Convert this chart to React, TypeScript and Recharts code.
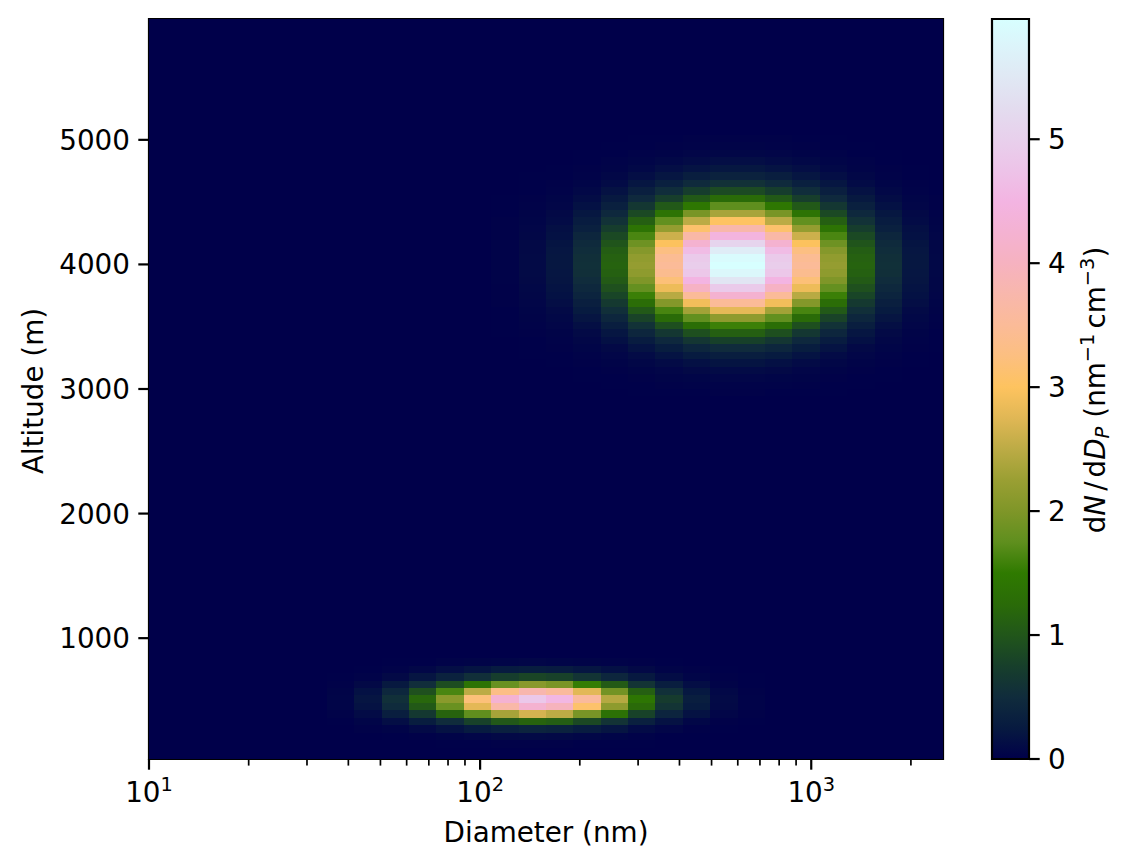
import { Bar, BarChart, ReferenceArea, Scatter, ScatterChart, XAxis, YAxis } from 'recharts';

const FONT = '"DejaVu Sans", sans-serif';
const WIDTH = 1132;
const HEIGHT = 867;

// bin centres
const diameters = [
  10, 12.1, 14.6, 17.7, 21.4, 25.9, 31.4, 37.9, 45.9, 55.5,
  67.1, 81.2, 98.2, 118.8, 143.8, 173.9, 210.4, 254.4, 307.8, 372.4,
  450.5, 545, 659.2, 797.5, 964.9, 1167, 1412, 1708, 2067, 2500,
];
const altitudes = [
  30, 90, 150, 210, 270, 330, 390, 450, 510, 570, 630, 690, 750, 810, 870, 930, 990, 1050, 1110, 1170,
  1230, 1290, 1350, 1410, 1470, 1530, 1590, 1650, 1710, 1770, 1830, 1890, 1950, 2010, 2070, 2130, 2190, 2250, 2310, 2370,
  2430, 2490, 2550, 2610, 2670, 2730, 2790, 2850, 2910, 2970, 3030, 3090, 3150, 3210, 3270, 3330, 3390, 3450, 3510, 3570,
  3630, 3690, 3750, 3810, 3870, 3930, 3990, 4050, 4110, 4170, 4230, 4290, 4350, 4410, 4470, 4530, 4590, 4650, 4710, 4770,
  4830, 4890, 4950, 5010, 5070, 5130, 5190, 5250, 5310, 5370, 5430, 5490, 5550, 5610, 5670, 5730, 5790, 5850, 5910, 5970,
];

// upper mode: altitude bins 49-83 (bottom up), diameter bins 13-29
const upperFirstRow = 49;
const upperFirstCol = 13;
const upperRows = [
  [0, 0, 0, 0, 0, .01, .01, .01, .02, .02, .01, .01, .01, 0, 0, 0, 0],
  [0, 0, 0, 0, .01, .01, .02, .03, .03, .03, .03, .02, .01, .01, 0, 0, 0],
  [0, 0, 0, .01, .01, .02, .04, .05, .06, .06, .05, .04, .02, .01, .01, 0, 0],
  [0, 0, 0, .01, .02, .04, .06, .09, .11, .11, .09, .06, .04, .02, .01, 0, 0],
  [0, 0, .01, .02, .04, .07, .11, .15, .19, .19, .15, .11, .07, .04, .02, .01, 0],
  [0, .01, .01, .03, .06, .11, .18, .26, .31, .31, .26, .18, .11, .06, .03, .01, 0],
  [0, .01, .02, .05, .09, .18, .29, .41, .49, .49, .41, .29, .18, .09, .05, .02, .01],
  [0, .01, .03, .07, .15, .28, .44, .63, .76, .76, .63, .44, .28, .15, .07, .03, .01],
  [.01, .02, .04, .10, .21, .41, .65, .92, 1.11, 1.11, .92, .65, .41, .21, .10, .04, .01],
  [.01, .03, .06, .14, .30, .58, .92, 1.30, 1.57, 1.57, 1.30, .92, .58, .30, .14, .06, .02],
  [.01, .04, .08, .20, .41, .79, 1.25, 1.77, 2.14, 2.14, 1.77, 1.25, .79, .41, .20, .08, .03],
  [.01, .05, .10, .26, .54, 1.03, 1.63, 2.31, 2.79, 2.79, 2.31, 1.63, 1.03, .54, .26, .10, .04],
  [.02, .06, .13, .32, .67, 1.29, 2.05, 2.90, 3.50, 3.50, 2.90, 2.05, 1.29, .67, .32, .13, .05],
  [.02, .07, .16, .39, .81, 1.56, 2.47, 3.50, 4.22, 4.22, 3.50, 2.47, 1.56, .81, .39, .16, .06],
  [.02, .08, .18, .45, .94, 1.80, 2.86, 4.05, 4.88, 4.88, 4.05, 2.86, 1.80, .94, .45, .18, .07],
  [.03, .09, .20, .50, 1.05, 2.00, 3.19, 4.50, 5.43, 5.43, 4.50, 3.19, 2.00, 1.05, .50, .20, .07],
  [.03, .10, .21, .54, 1.12, 2.14, 3.41, 4.82, 5.81, 5.81, 4.82, 3.41, 2.14, 1.12, .54, .21, .08],
  [.03, .10, .22, .55, 1.15, 2.20, 3.50, 4.95, 5.97, 5.97, 4.95, 3.50, 2.20, 1.15, .55, .22, .08],
  [.03, .10, .22, .54, 1.13, 2.17, 3.45, 4.88, 5.89, 5.89, 4.88, 3.45, 2.17, 1.13, .54, .22, .08],
  [.03, .09, .21, .51, 1.08, 2.06, 3.27, 4.63, 5.58, 5.58, 4.63, 3.27, 2.06, 1.08, .51, .21, .07],
  [.03, .09, .19, .47, .98, 1.87, 2.98, 4.22, 5.09, 5.09, 4.22, 2.98, 1.87, .98, .47, .19, .07],
  [.02, .07, .16, .41, .86, 1.64, 2.61, 3.69, 4.45, 4.45, 3.69, 2.61, 1.64, .86, .41, .16, .06],
  [.02, .06, .14, .34, .72, 1.38, 2.19, 3.10, 3.74, 3.74, 3.10, 2.19, 1.38, .72, .34, .14, .05],
  [.02, .05, .11, .28, .58, 1.11, 1.77, 2.50, 3.02, 3.02, 2.50, 1.77, 1.11, .58, .28, .11, .04],
  [.01, .04, .09, .22, .45, .86, 1.38, 1.95, 2.35, 2.35, 1.95, 1.38, .86, .45, .22, .09, .03],
  [.01, .03, .06, .16, .34, .64, 1.03, 1.45, 1.75, 1.75, 1.45, 1.03, .64, .34, .16, .06, .02],
  [.01, .02, .05, .12, .24, .46, .74, 1.04, 1.25, 1.25, 1.04, .74, .46, .24, .12, .05, .02],
  [0, .01, .03, .08, .17, .32, .51, .72, .87, .87, .72, .51, .32, .17, .08, .03, .01],
  [0, .01, .02, .05, .11, .21, .33, .47, .57, .57, .47, .33, .21, .11, .05, .02, .01],
  [0, .01, .01, .03, .07, .13, .21, .30, .36, .36, .30, .21, .13, .07, .03, .01, 0],
  [0, 0, .01, .02, .04, .08, .13, .18, .22, .22, .18, .13, .08, .04, .02, .01, 0],
  [0, 0, 0, .01, .03, .05, .08, .11, .13, .13, .11, .08, .05, .03, .01, 0, 0],
  [0, 0, 0, .01, .01, .03, .04, .06, .07, .07, .06, .04, .03, .01, .01, 0, 0],
  [0, 0, 0, 0, .01, .01, .02, .03, .04, .04, .03, .02, .01, .01, 0, 0, 0],
  [0, 0, 0, 0, 0, .01, .01, .02, .02, .02, .02, .01, .01, 0, 0, 0, 0],
];

// lower mode: altitude bins 2-13 (bottom up), diameter bins 6-22
const lowerFirstRow = 2;
const lowerFirstCol = 6;
const lowerRows = [
  [0, 0, 0, 0, 0, .01, .01, .02, .02, .02, .01, .01, .01, 0, 0, 0, 0],
  [0, 0, 0, .01, .02, .04, .06, .09, .10, .09, .07, .05, .03, .01, .01, 0, 0],
  [0, 0, .02, .04, .10, .17, .26, .34, .39, .36, .28, .20, .11, .06, .02, .01, 0],
  [0, .01, .05, .13, .29, .50, .77, 1.02, 1.16, 1.09, .85, .59, .34, .17, .07, .02, .01],
  [0, .03, .11, .30, .66, 1.16, 1.76, 2.34, 2.67, 2.50, 1.95, 1.35, .78, .39, .17, .06, .02],
  [0, .05, .17, .48, 1.04, 1.83, 2.78, 3.70, 4.22, 3.96, 3.09, 2.13, 1.24, .61, .26, .09, .03],
  [0, .05, .20, .55, 1.20, 2.10, 3.20, 4.25, 4.85, 4.55, 3.55, 2.45, 1.42, .70, .30, .10, .03],
  [0, .04, .16, .43, .94, 1.64, 2.50, 3.32, 3.78, 3.55, 2.77, 1.91, 1.11, .55, .23, .08, .02],
  [0, .02, .09, .24, .52, .90, 1.38, 1.83, 2.09, 1.96, 1.53, 1.05, .61, .30, .13, .04, .01],
  [0, .01, .03, .09, .20, .36, .54, .72, .82, .77, .60, .42, .24, .12, .05, .02, .01],
  [0, 0, .01, .03, .07, .13, .19, .26, .29, .27, .21, .15, .09, .04, .02, .01, 0],
  [0, 0, 0, .01, .01, .03, .04, .05, .06, .05, .04, .03, .02, .01, 0, 0, 0],
];

const colorValues = [0, .25, .5, .75, 1, 1.25, 1.5, 1.75, 2, 2.25, 2.5, 2.75, 3, 3.25, 3.5, 3.75, 4, 4.25, 4.5, 4.75, 5, 5.25, 5.5, 5.75, 5.97];
const colorHex = [
  '#00004a', '#071a40', '#102c3c', '#173f2b', '#21561a', '#2a6b08', '#2f7a00', '#5f8f1e', '#7f9628',
  '#9a9f33', '#bcab45', '#e0b755', '#fec35f', '#fcbf80', '#fbbb98', '#f8b7ac', '#f6b2c0', '#f4b2d2',
  '#f3b4e2', '#edc3e8', '#e8d0ec', '#e3dcef', '#e0e8f4', '#dcf4fa', '#d7ffff',
];

const xTicks = [10, 20, 30, 40, 50, 60, 70, 80, 90, 100, 200, 300, 400, 500, 600, 700, 800, 900, 1000, 2000];
const xMajor: Record<number, string> = { 10: '1', 100: '2', 1000: '3' };
const yTicks = [1000, 2000, 3000, 4000, 5000];
const colorTicks = [0, 1, 2, 3, 4, 5];
const colorMax = 5.97;

const cellW = 794 / 29;
const cellH = 740 / 99;

function hexToRgb(hex: string) {
  return [1, 3, 5].map((i) => parseInt(hex.slice(i, i + 2), 16));
}

function colorFor(v: number) {
  let i = 0;
  while (i < colorValues.length - 2 && v > colorValues[i + 1]) i++;
  const t = Math.min(1, (v - colorValues[i]) / (colorValues[i + 1] - colorValues[i]));
  const a = hexToRgb(colorHex[i]);
  const b = hexToRgb(colorHex[i + 1]);
  return `rgb(${a.map((c, k) => Math.round(c + (b[k] - c) * t)).join(',')})`;
}

function cellValue(row: number, col: number) {
  const upper = upperRows[row - upperFirstRow]?.[col - upperFirstCol];
  if (upper !== undefined) return upper;
  return lowerRows[row - lowerFirstRow]?.[col - lowerFirstCol] ?? 0;
}

const cells = altitudes.flatMap((altitude, row) =>
  diameters.map((diameter, col) => ({ diameter, altitude, value: cellValue(row, col) })),
);

const HeatCell = (props: any) => (
  <rect
    x={props.cx - cellW / 2}
    y={props.cy - cellH / 2}
    width={cellW}
    height={cellH}
    fill={colorFor(props.payload.value)}
    shapeRendering="crispEdges"
  />
);

const XTick = ({ x, y, payload }: any) => {
  const exp = xMajor[payload.value];
  return (
    <g>
      <line x1={x} x2={x} y1={y} y2={y + (exp ? 10.7 : 6.6)} stroke="#000" strokeWidth={exp ? 2.2 : 1.7} />
      {exp && (
        <text x={x} y={y + 43} textAnchor="middle" fontFamily={FONT} fontSize={27.8} fill="#000">
          10
          <tspan fontSize={19.4} dy={-11.5}>{exp}</tspan>
        </text>
      )}
    </g>
  );
};

const YTick = ({ x, y, payload }: any) => (
  <g>
    <line x1={x} x2={x - 10.7} y1={y} y2={y} stroke="#000" strokeWidth={2.2} />
    <text x={x - 19} y={y + 10} textAnchor="end" fontFamily={FONT} fontSize={27.8} fill="#000">
      {payload.value}
    </text>
  </g>
);

const ColorTick = ({ x, y, payload }: any) => (
  <g>
    <line x1={x} x2={x + 10.7} y1={y} y2={y} stroke="#000" strokeWidth={2.2} />
    <text x={x + 19} y={y + 10} fontFamily={FONT} fontSize={27.8} fill="#000">
      {payload.value}
    </text>
  </g>
);

const AltitudeLabel = () => (
  <text transform="rotate(-90 43 391)" x={43} y={391} textAnchor="middle" fontFamily={FONT} fontSize={27.8} fill="#000">
    Altitude (m)
  </text>
);

const DiameterLabel = () => (
  <text x={546} y={842} textAnchor="middle" fontFamily={FONT} fontSize={27.8} fill="#000">
    Diameter (nm)
  </text>
);

const ColorbarLabel = () => (
  <text transform="rotate(-90 1105 390)" x={1105} y={390} textAnchor="middle" fontFamily={FONT} fontSize={27.8} fill="#000">
    d<tspan fontStyle="italic">N</tspan>
    <tspan dx={4}>/</tspan>
    <tspan dx={4}>d</tspan>
    <tspan fontStyle="italic">D</tspan>
    <tspan fontStyle="italic" fontSize={19.4} dy={4}>P</tspan>
    <tspan dy={-4} dx={9}>(nm</tspan>
    <tspan fontSize={19.4} dy={-11.5}>−1</tspan>
    <tspan dy={11.5} dx={5}>cm</tspan>
    <tspan fontSize={19.4} dy={-11.5}>−3</tspan>
    <tspan dy={11.5}>)</tspan>
  </text>
);

export default function App() {
  return (
    <div style={{ position: 'absolute', left: 0, top: 0, width: WIDTH, height: HEIGHT, background: '#fff' }}>
      <div style={{ position: 'absolute', left: 0, top: 0 }}>
        <ScatterChart width={WIDTH} height={HEIGHT} margin={{ top: 19, right: 189, bottom: 0, left: 0 }}>
          <XAxis
            type="number"
            dataKey="diameter"
            scale="log"
            domain={[10, 2500]}
            ticks={xTicks}
            interval={0}
            allowDataOverflow
            height={108}
            axisLine={false}
            tickLine={false}
            tickSize={0}
            tickMargin={0}
            tick={XTick}
            label={{ content: DiameterLabel }}
          />
          <YAxis
            type="number"
            dataKey="altitude"
            domain={[30, 5970]}
            ticks={yTicks}
            interval={0}
            allowDataOverflow
            width={149}
            axisLine={false}
            tickLine={false}
            tickSize={0}
            tickMargin={0}
            tick={YTick}
            label={{ content: AltitudeLabel }}
          />
          <Scatter data={cells} shape={HeatCell} isAnimationActive={false} />
          <ReferenceArea x1={10} x2={2500} y1={30} y2={5970} fill="none" stroke="#000" strokeWidth={2.2} />
        </ScatterChart>
      </div>
      <div style={{ position: 'absolute', left: 0, top: 0 }}>
        <BarChart
          width={WIDTH}
          height={HEIGHT}
          data={[{ name: 'scale', value: colorMax }]}
          margin={{ top: 19, right: 0, bottom: 108, left: 992 }}
          barCategoryGap={0}
        >
          <defs>
            <linearGradient id="colorbarFill" x1="0" y1="1" x2="0" y2="0">
              {colorValues.map((v, i) => (
                <stop key={v} offset={v / colorMax} stopColor={colorHex[i]} />
              ))}
            </linearGradient>
          </defs>
          <XAxis dataKey="name" hide />
          <YAxis
            orientation="right"
            type="number"
            domain={[0, colorMax]}
            ticks={colorTicks}
            interval={0}
            width={103}
            axisLine={false}
            tickLine={false}
            tickSize={0}
            tickMargin={0}
            tick={ColorTick}
            label={{ content: ColorbarLabel }}
          />
          <Bar dataKey="value" fill="url(#colorbarFill)" stroke="#000" strokeWidth={2.2} isAnimationActive={false} />
        </BarChart>
      </div>
    </div>
  );
}
